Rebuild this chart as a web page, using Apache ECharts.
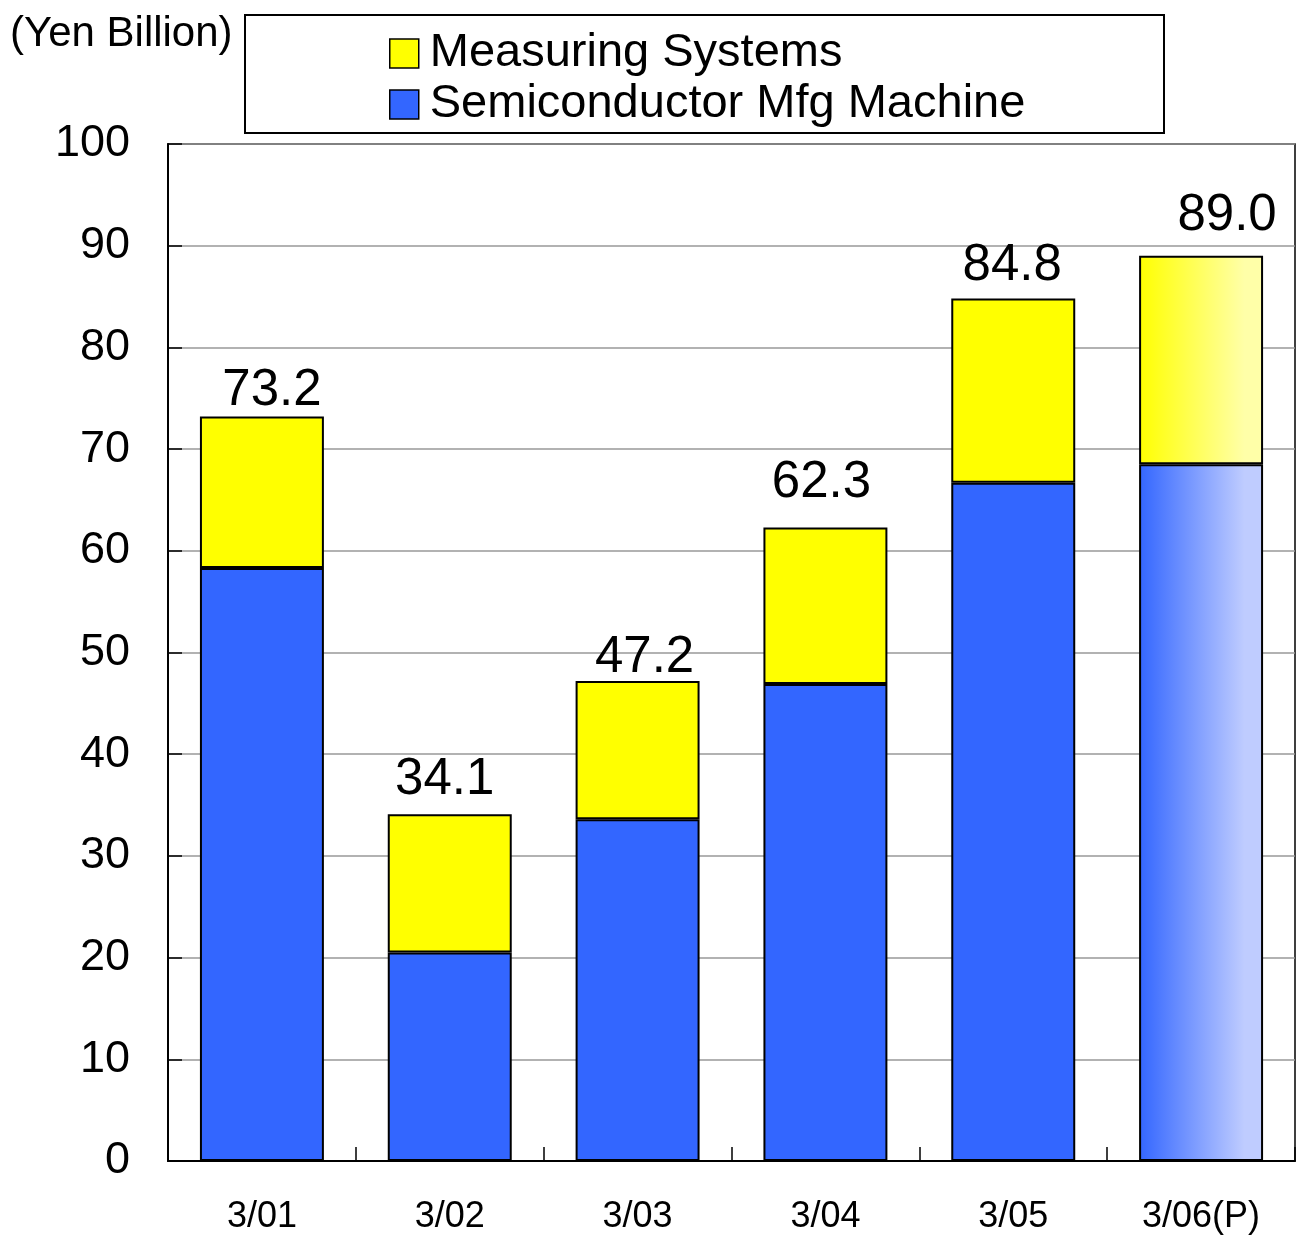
<!DOCTYPE html>
<html>
<head>
<meta charset="utf-8">
<script src="https://cdn.jsdelivr.net/npm/echarts@6/dist/echarts.min.js"></script>
<style>
html,body{margin:0;padding:0;background:#fff;}
#chart{width:1300px;height:1235px;}
</style>
</head>
<body>
<div id="chart"></div>
<script>
const categories = ['3/01', '3/02', '3/03', '3/04', '3/05', '3/06(P)'];
const semiconductor = [58.3, 20.5, 33.6, 46.9, 66.7, 68.5];
const measuring = [14.9, 13.6, 13.6, 15.4, 18.1, 20.5];
const totals = [73.2, 34.1, 47.2, 62.3, 84.8, 89.0];
const yTicks = [0, 10, 20, 30, 40, 50, 60, 70, 80, 90, 100];

// label placement tweaks (style only)
const labelDx = [10, -5, 7, -4, -1, 26];
const labelGap = [13, 22, 11, 32, 20, 27];

const FONT = '"Liberation Sans", Arial, sans-serif';
const YELLOW = '#FFFF00';
const BLUE = '#3366FF';
const lastIdx = categories.length - 1;

function grad(c0, c1) {
  return new echarts.graphic.LinearGradient(0, 0, 1, 0, [
    { offset: 0, color: c0 },
    { offset: 0.85, color: c1 },
    { offset: 1, color: c1 }
  ]);
}

const chart = echarts.init(document.getElementById('chart'), null, { renderer: 'canvas' });

const semiData = semiconductor.map((v, i) => i === lastIdx
  ? { value: v, itemStyle: { color: grad(BLUE, '#BFCCFF') } }
  : v);
const measData = measuring.map((v, i) => {
  const item = {
    value: v,
    label: { offset: [labelDx[i], 0], distance: labelGap[i] - 13 }
  };
  if (i === lastIdx) item.itemStyle = { color: grad(YELLOW, '#FFFFA8') };
  return item;
});

chart.setOption({
  animation: false,
  backgroundColor: '#fff',
  textStyle: { fontFamily: FONT },
  title: {
    text: '(Yen Billion)',
    left: 5, top: 8,
    textStyle: { fontFamily: FONT, fontSize: 42, fontWeight: 'normal', color: '#000' }
  },
  graphic: [{
    type: 'rect',
    left: 244, top: 14,
    shape: { width: 919, height: 118 },
    style: { fill: '#fff', stroke: '#000', lineWidth: 2 },
    z: 0
  }],
  legend: {
    data: ['Measuring Systems', 'Semiconductor Mfg Machine'],
    orient: 'vertical',
    left: 384, top: 24,
    itemWidth: 29, itemHeight: 29,
    itemGap: 2,
    icon: 'rect',
    z: 5,
    itemStyle: { borderColor: '#000', borderWidth: 1.5 },
    textStyle: { fontFamily: FONT, fontSize: 47, color: '#000', lineHeight: 49, padding: [0, 0, 0, 6] }
  },
  grid: {
    left: 168, right: 5, top: 144, bottom: 73,
    show: true, borderColor: '#000', borderWidth: 1.5,
    containLabel: false
  },
  xAxis: {
    type: 'category',
    data: categories,
    axisLine: { lineStyle: { color: '#000', width: 2 } },
    axisTick: { show: true, inside: true, length: 14, alignWithLabel: false, lineStyle: { color: '#000', width: 1.5 } },
    axisLabel: { fontFamily: FONT, fontSize: 36, color: '#000', margin: 38 }
  },
  yAxis: {
    type: 'value',
    min: yTicks[0], max: yTicks[yTicks.length - 1], interval: 10,
    axisLine: { show: true, lineStyle: { color: '#000', width: 2 } },
    axisTick: { show: true, inside: true, length: 14, lineStyle: { color: '#000', width: 1.5 } },
    axisLabel: { fontFamily: FONT, fontSize: 45, color: '#000', margin: 38, padding: [7, 0, 0, 0] },
    splitLine: { show: true, lineStyle: { color: '#999', width: 1.5 } }
  },
  series: [
    {
      name: 'Semiconductor Mfg Machine',
      type: 'bar',
      stack: 'total',
      barWidth: '66%',
      data: semiData,
      itemStyle: { color: BLUE, borderColor: '#000', borderWidth: 2 }
    },
    {
      name: 'Measuring Systems',
      type: 'bar',
      stack: 'total',
      barWidth: '66%',
      data: measData,
      itemStyle: { color: YELLOW, borderColor: '#000', borderWidth: 2 },
      label: {
        show: true,
        position: 'top',
        fontFamily: FONT,
        fontSize: 51,
        color: '#000',
        formatter: p => totals[p.dataIndex].toFixed(1)
      }
    }
  ]
});
</script>
</body>
</html>
